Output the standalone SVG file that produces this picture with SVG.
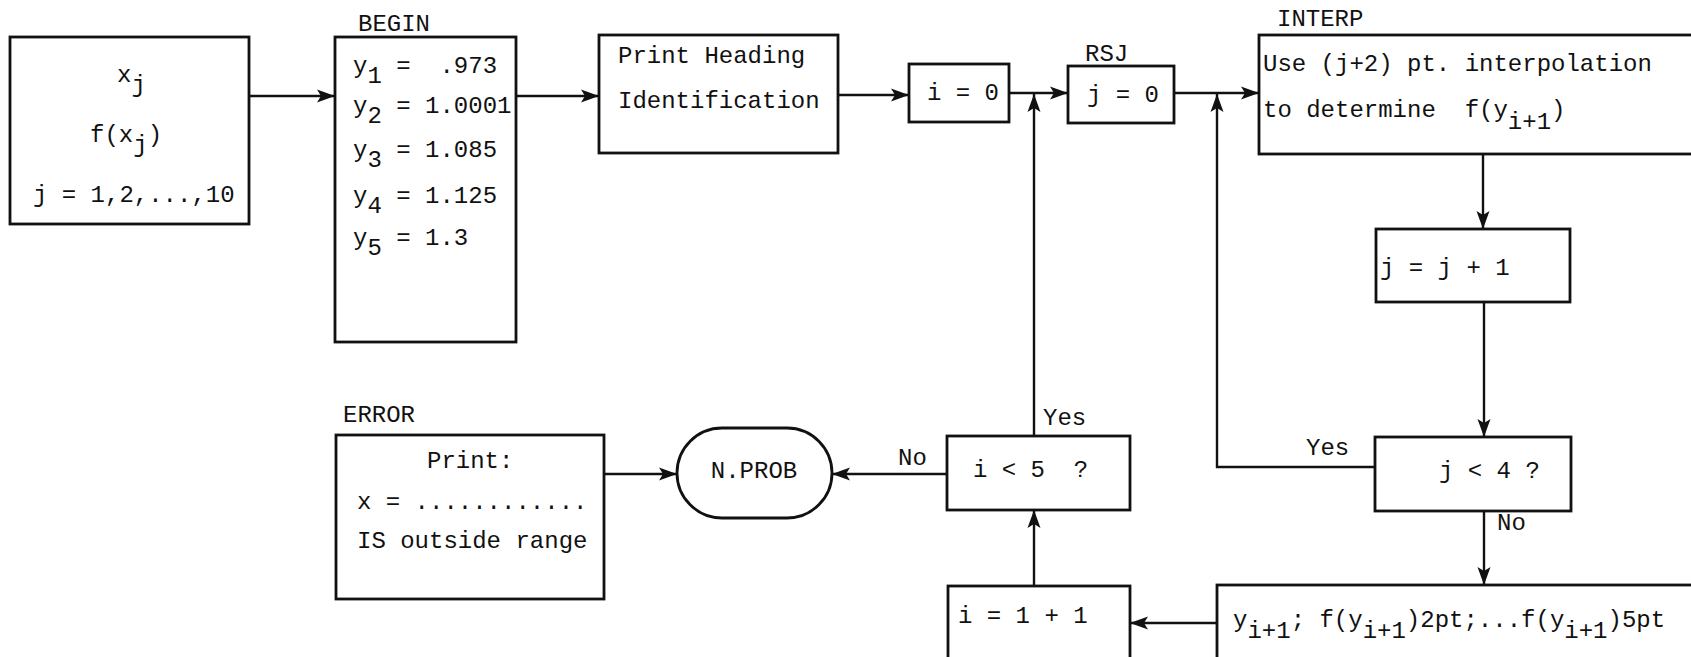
<svg xmlns="http://www.w3.org/2000/svg" width="1691" height="657" viewBox="0 0 1691 657">
  <style>
    .box { fill: #fff; stroke: #111; stroke-width: 2.8; }
    .wire { fill: none; stroke: #111; stroke-width: 2.4; }
    text { font-family: "Liberation Mono", "DejaVu Sans Mono", monospace; font-size: 24px; fill: #111; }
  </style>
  <defs>
    <marker id="arrow" markerUnits="userSpaceOnUse" markerWidth="20" markerHeight="14" refX="18" refY="7" orient="auto">
      <path d="M0,0.5 L18,7 L0,13.5 L4,7 z" fill="#111"/>
    </marker>
  </defs>
  <rect width="1691" height="657" fill="#fff"/>

  <!-- connectors -->
  <g id="connectors">
    <line class="wire" x1="249" y1="96" x2="335" y2="96" marker-end="url(#arrow)"/>
    <line class="wire" x1="516" y1="96" x2="599" y2="96" marker-end="url(#arrow)"/>
    <line class="wire" x1="838" y1="95" x2="909" y2="95" marker-end="url(#arrow)"/>
    <line class="wire" x1="1009" y1="93" x2="1068" y2="93" marker-end="url(#arrow)"/>
    <line class="wire" x1="1174" y1="93" x2="1259" y2="93" marker-end="url(#arrow)"/>
    <line class="wire" x1="1483" y1="154" x2="1483" y2="229" marker-end="url(#arrow)"/>
    <line class="wire" x1="1484" y1="302" x2="1484" y2="437" marker-end="url(#arrow)"/>
    <polyline class="wire" points="1375,467 1217,467 1217,94" marker-end="url(#arrow)"/>
    <line class="wire" x1="1484" y1="511" x2="1484" y2="585" marker-end="url(#arrow)"/>
    <line class="wire" x1="1217" y1="623" x2="1130" y2="623" marker-end="url(#arrow)"/>
    <line class="wire" x1="1034" y1="586" x2="1034" y2="510" marker-end="url(#arrow)"/>
    <line class="wire" x1="1034" y1="436" x2="1034" y2="94" marker-end="url(#arrow)"/>
    <line class="wire" x1="947" y1="474" x2="832" y2="474" marker-end="url(#arrow)"/>
    <line class="wire" x1="604" y1="474" x2="677" y2="474" marker-end="url(#arrow)"/>
    <text x="1043" y="425">Yes</text>
    <text x="898" y="465">No</text>
    <text x="1306" y="455">Yes</text>
    <text x="1497" y="530">No</text>
  </g>

  <!-- input data -->
  <g id="input">
    <rect class="box" x="10" y="37" width="239" height="187"/>
    <text x="117" y="82">x<tspan dy="10">j</tspan></text>
    <text x="90" y="142">f(x<tspan dy="10">j</tspan><tspan dy="-10">)</tspan></text>
    <text x="33" y="202">j = 1,2,...,10</text>
  </g>

  <!-- BEGIN: breakpoints -->
  <g id="begin">
    <text x="358" y="31">BEGIN</text>
    <rect class="box" x="335" y="37" width="181" height="305"/>
    <text x="353" y="73" xml:space="preserve">y<tspan dy="10">1</tspan><tspan dy="-10"> =  .973</tspan></text>
    <text x="353" y="113">y<tspan dy="10">2</tspan><tspan dy="-10"> = 1.0001</tspan></text>
    <text x="353" y="157">y<tspan dy="10">3</tspan><tspan dy="-10"> = 1.085</tspan></text>
    <text x="353" y="203">y<tspan dy="10">4</tspan><tspan dy="-10"> = 1.125</tspan></text>
    <text x="353" y="245">y<tspan dy="10">5</tspan><tspan dy="-10"> = 1.3</tspan></text>
  </g>

  <!-- heading -->
  <g id="heading">
    <rect class="box" x="599" y="35" width="239" height="118"/>
    <text x="618" y="63">Print Heading</text>
    <text x="618" y="108">Identification</text>
  </g>

  <g id="init-i">
    <rect class="box" x="909" y="64" width="100" height="58"/>
    <text x="927" y="100">i = 0</text>
  </g>

  <g id="rsj">
    <text x="1085" y="61">RSJ</text>
    <rect class="box" x="1068" y="66" width="106" height="57"/>
    <text x="1087" y="102">j = 0</text>
  </g>

  <g id="interp">
    <text x="1277" y="26">INTERP</text>
    <rect class="box" x="1259" y="35" width="450" height="119"/>
    <text x="1263" y="71">Use (j+2) pt. interpolation</text>
    <text x="1263" y="117" xml:space="preserve">to determine  f(y<tspan dy="12">i+1</tspan><tspan dy="-12">)</tspan></text>
  </g>

  <g id="inc-j">
    <rect class="box" x="1376" y="229" width="194" height="73"/>
    <text x="1380" y="275">j = j + 1</text>
  </g>

  <g id="test-j">
    <rect class="box" x="1375" y="437" width="196" height="74"/>
    <text x="1439" y="478">j &lt; 4 ?</text>
  </g>

  <g id="results">
    <rect class="box" x="1217" y="585" width="490" height="90"/>
    <text x="1233" y="627">y<tspan dy="11">i+1</tspan><tspan dy="-11">; f(y</tspan><tspan dy="11">i+1</tspan><tspan dy="-11">)2pt;...f(y</tspan><tspan dy="11">i+1</tspan><tspan dy="-11">)5pt</tspan></text>
  </g>

  <g id="inc-i">
    <rect class="box" x="948" y="586" width="182" height="90"/>
    <text x="958" y="623">i = 1 + 1</text>
  </g>

  <g id="test-i">
    <rect class="box" x="947" y="436" width="183" height="74"/>
    <text x="973" y="477" xml:space="preserve">i &lt; 5  ?</text>
  </g>

  <g id="nprob">
    <rect class="box" x="677" y="428" width="155" height="90" rx="45" ry="45"/>
    <text x="754" y="478" text-anchor="middle">N.PROB</text>
  </g>

  <g id="error">
    <text x="343" y="422">ERROR</text>
    <rect class="box" x="336" y="435" width="268" height="164"/>
    <text x="427" y="468">Print:</text>
    <text x="357" y="509">x = ............</text>
    <text x="357" y="548">IS outside range</text>
  </g>
</svg>
